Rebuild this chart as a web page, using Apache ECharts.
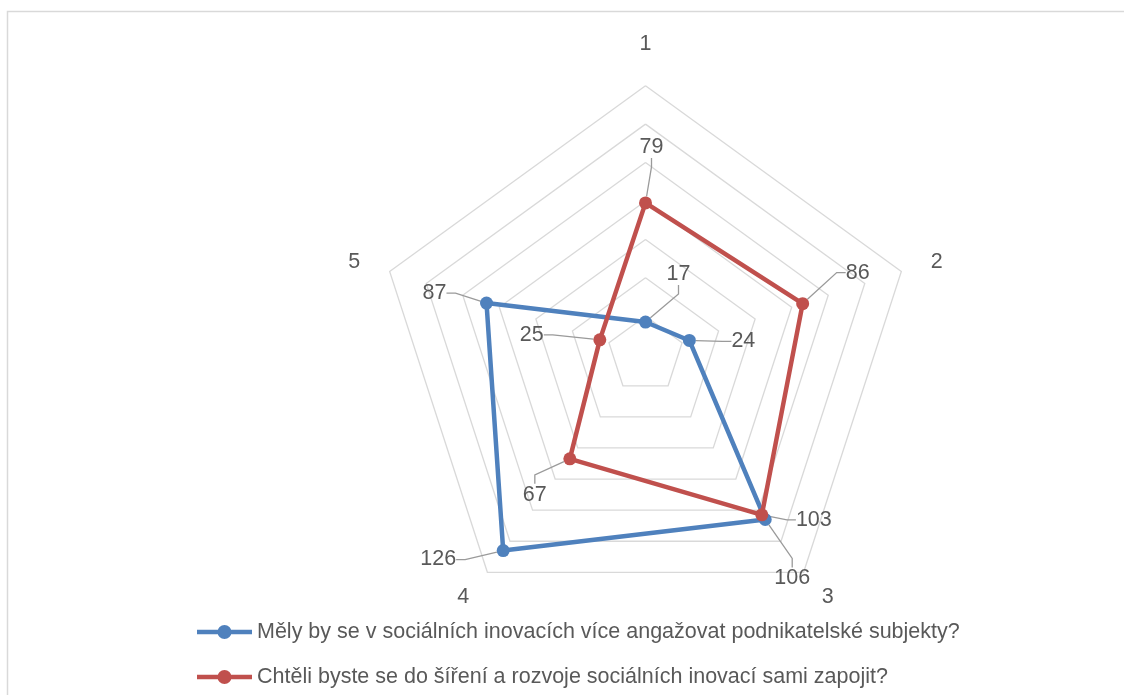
<!DOCTYPE html>
<html>
<head>
<meta charset="utf-8">
<script src="https://cdn.jsdelivr.net/npm/echarts@6/dist/echarts.min.js"></script>
<style>
  html, body { margin: 0; padding: 0; background: #ffffff; }
  #chart { width: 1124px; height: 695px; }
</style>
</head>
<body>
<div id="chart"></div>
<script>
// Axis labels (clockwise from the top) and the two answered questions
const axisNames = ['1', '2', '3', '4', '5'];
const seriesNames = [
  'Měly by se v sociálních inovacích více angažovat podnikatelské subjekty?',
  'Chtěli byste se do šíření a rozvoje sociálních inovací sami zapojit?'
];
const businessValues = [17, 24, 106, 126, 87];
const joinValues = [79, 86, 103, 67, 25];
const axisMax = 140;
const axisSplits = 7;

const allValues = [businessValues, joinValues];
const colors = ['#4f81bd', '#c0504d'];
const textColor = '#595959';
const fontFamily = 'Liberation Sans';
const fontSize = 21.5;

// Offset of each value label from its point (px), per series, axes 1..5
const labelShift = [
  [[33, -48], [54, 1], [27, 59], [-65, 9], [-52, -10]],
  [[6, -56], [55, -31], [52, 5], [-35, 36], [-68, -5]]
];

// ECharts lays indicators out counter-clockwise; visit the axes in this
// order so that 1..5 run clockwise around the web.
const order = [0, 4, 3, 2, 1];
const reorder = arr => order.map(i => arr[i]);

// Legend marker: a thick line with a dot in the middle
const legendIcon = 'path://M0,4.75h55v4.5h-55z M20.5,7a7,7 0 1,1 14,0a7,7 0 1,1 -14,0z';

// One legend block per question, stacked one under the other
const legendTops = [616, 661];
const legends = seriesNames.map((name, k) => ({
  left: 192,
  top: legendTops[k],
  itemWidth: 55,
  itemHeight: 14,
  icon: legendIcon,
  selectedMode: false,
  data: [name],
  textStyle: { color: textColor, fontSize: fontSize, fontFamily: fontFamily }
}));

const chart = echarts.init(document.getElementById('chart'), null, { renderer: 'canvas' });

chart.setOption({
  animation: false,
  backgroundColor: '#ffffff',
  color: colors,
  graphic: [{
    type: 'rect',
    silent: true,
    z: -10,
    shape: { x: 7.5, y: 11.5, width: 1300, height: 900 },
    style: { fill: 'none', stroke: '#d9d9d9', lineWidth: 1.5 }
  }],
  legend: legends,
  radar: {
    center: [645.5, 354.7],
    radius: 269,
    startAngle: 90,
    shape: 'polygon',
    splitNumber: axisSplits,
    indicator: reorder(axisNames).map(n => ({ name: n, min: 0, max: axisMax })),
    axisName: { color: textColor, fontSize: fontSize, fontFamily: fontFamily },
    nameGap: 31,
    axisLine: { show: false },
    axisTick: { show: false },
    axisLabel: { show: false },
    splitArea: { show: false },
    splitLine: { lineStyle: { color: '#d9d9d9', width: 1.3 } }
  },
  series: [{
    type: 'radar',
    symbol: 'circle',
    symbolSize: 13,
    label: {
      show: true,
      color: textColor,
      fontSize: fontSize,
      fontFamily: fontFamily
    },
    labelLine: {
      show: true,
      length2: 9,
      lineStyle: { color: '#9a9a9a', width: 1.3 }
    },
    labelLayout: function (p) {
      const vals = allValues[p.dataIndex];
      if (!vals) return {};
      const axis = vals.indexOf(Number(p.text));
      if (axis < 0) return {};
      const s = labelShift[p.dataIndex][axis];
      return {
        x: p.rect.x + p.rect.width / 2 + s[0],
        y: p.rect.y + p.rect.height / 2 + s[1],
        align: 'center',
        verticalAlign: 'middle'
      };
    },
    data: allValues.map((vals, k) => ({
      name: seriesNames[k],
      value: reorder(vals),
      itemStyle: { color: colors[k] },
      lineStyle: { color: colors[k], width: 4.5 }
    }))
  }]
});
</script>
</body>
</html>
